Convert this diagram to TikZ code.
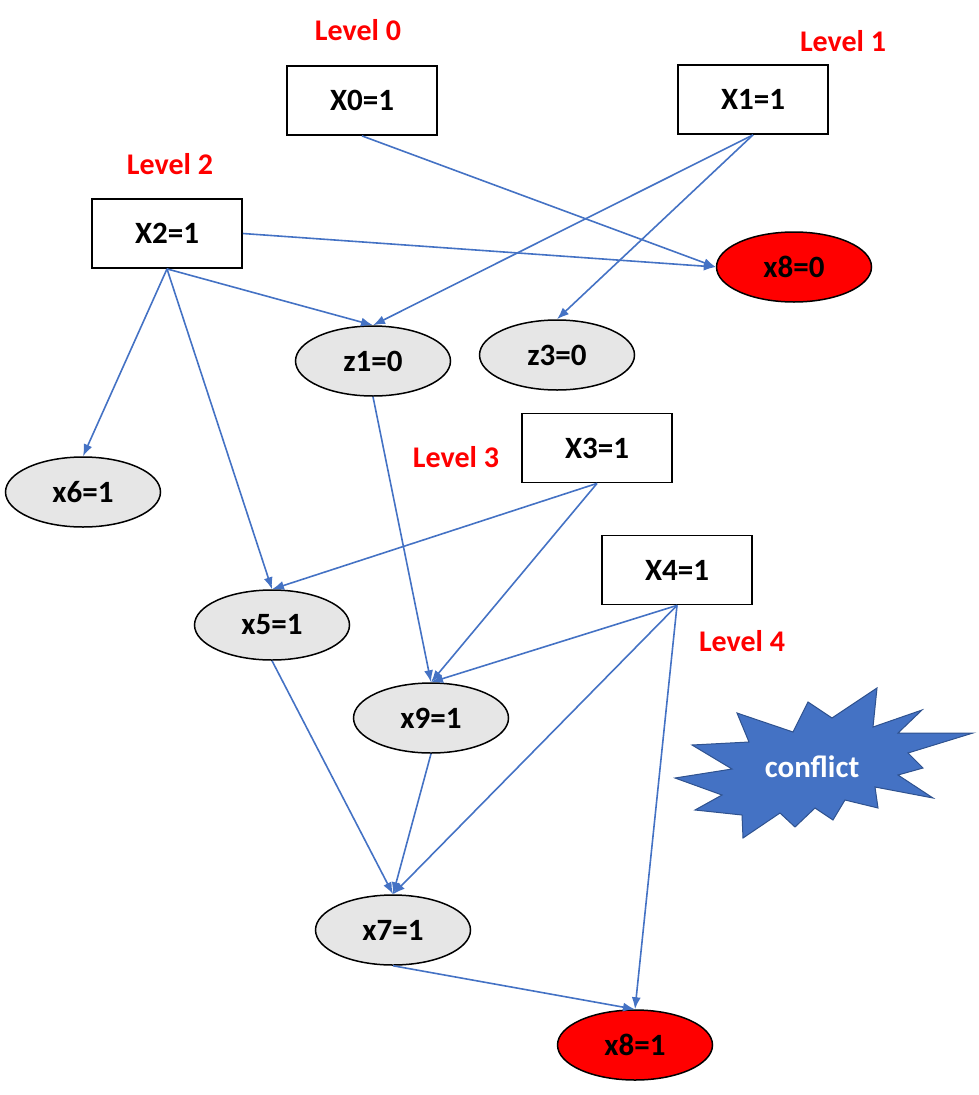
\documentclass[tikz,border=0pt]{standalone}
\usepackage{fontspec}
\setmainfont{Carlito}
\usetikzlibrary{shapes.geometric,arrows.meta}
\definecolor{edgeblue}{HTML}{4472C4}
\definecolor{stardark}{HTML}{2F528F}
\definecolor{nodegray}{HTML}{E6E6E6}
\definecolor{levelred}{HTML}{FF0000}
\begin{document}
\begin{tikzpicture}[x=1pt,y=-1pt,
  every node/.style={font=\fontsize{31}{36}\selectfont\bfseries},
  varbox/.style={draw=black,line width=1.8pt,fill=white,minimum width=150pt,minimum height=69pt,inner sep=0pt},
  implnode/.style={ellipse,draw=black,line width=1.5pt,fill=nodegray,minimum width=155pt,minimum height=70pt,inner sep=0pt},
  conflnode/.style={implnode,fill=levelred},
  levellabel/.style={text=levelred,font=\fontsize{30}{34}\selectfont\bfseries},
  edge/.style={draw=edgeblue,line width=1.6pt,-{Latex[length=12pt,width=9pt]}}
]
\useasboundingbox (0,0) rectangle (978,1095);
% level labels
\node[levellabel] (l0) at (358,30) {Level 0};
\node[levellabel] (l1) at (843,41) {Level 1};
\node[levellabel] (l2) at (170,164) {Level 2};
\node[levellabel] (l3) at (456,457) {Level 3};
\node[levellabel] (l4) at (742,641) {Level 4};
% decision nodes
\node[varbox] (x0) at (362,100.5) {X0=1};
\node[varbox] (x1) at (753,99.5) {X1=1};
\node[varbox] (x2) at (167,233.5) {X2=1};
\node[varbox] (x3) at (597,448) {X3=1};
\node[varbox] (x4) at (677,570) {X4=1};
% implied nodes
\node[conflnode] (x80) at (794,267) {x8=0};
\node[implnode] (z1) at (373,361) {z1=0};
\node[implnode] (z3) at (557,355) {z3=0};
\node[implnode] (x6) at (83,492) {x6=1};
\node[implnode] (x5) at (272,625) {x5=1};
\node[implnode] (x9) at (431,718) {x9=1};
\node[implnode] (x7) at (393,930) {x7=1};
\node[conflnode] (x81) at (635,1045) {x8=1};
% conflict star
\draw[fill=edgeblue,draw=stardark,line width=1pt,line join=miter]
  (675,778) -- (732,769) -- (692,745) -- (749,742) -- (737,713) -- (793,732)
  -- (808,702) -- (832,718) -- (877,688) -- (873,727) -- (922,710) -- (898,733)
  -- (973,733) -- (908,753) -- (923,768) -- (898,775) -- (933,798) -- (875,787)
  -- (878,808) -- (845,800) -- (833,820) -- (815,808) -- (795,827) -- (780,813)
  -- (743,838) -- (742,815) -- (695,810) -- (722,795) -- cycle;
\node[text=white] (conflict) at (812,767) {conflict};
% edges
\draw[edge] (x0.south) -- (x80.west);
\draw[edge] (x1.south) -- (z1.north);
\draw[edge] (x1.south) -- (z3.north);
\draw[edge] (x2.east) -- (x80.west);
\draw[edge] (x2.south) -- (z1.north);
\draw[edge] (x2.south) -- (x6.north);
\draw[edge] (x2.south) -- (x5.north);
\draw[edge] (z1.south) -- (x9.north);
\draw[edge] (x3.south) -- (x5.north);
\draw[edge] (x3.south) -- (x9.north);
\draw[edge] (x4.south) -- (x9.north);
\draw[edge] (x4.south) -- (x7.north);
\draw[edge] (x4.south) -- (x81.north);
\draw[edge] (x5.south) -- (x7.north);
\draw[edge] (x9.south) -- (x7.north);
\draw[edge] (x7.south) -- (x81.north);
\end{tikzpicture}
\end{document}
